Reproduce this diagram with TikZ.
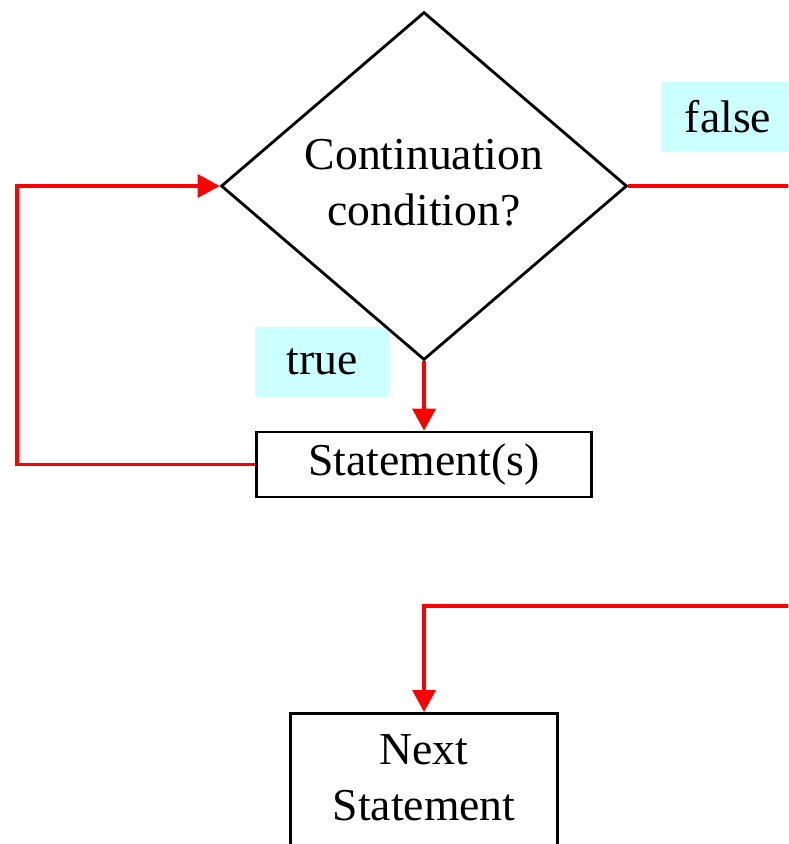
\documentclass[tikz,border=0pt]{standalone}
\usepackage{fontspec}
\setmainfont{Liberation Serif}
\usetikzlibrary{arrows.meta, shapes.geometric}

\definecolor{tagcyan}{RGB}{204,255,255}

\begin{document}
\begin{tikzpicture}[
    x=0.02cm, y=-0.02cm,
    font=\fontsize{26}{32}\selectfont,
    >={Triangle[length=4.4mm, width=4.6mm]}, % solid red tips
    decision/.style={diamond, draw, line width=1.6pt, aspect=1.167,
        minimum width=8.12cm, minimum height=6.96cm, inner sep=0pt, align=center},
    stmtbox/.style={rectangle, draw, line width=1.6pt, align=center},
    flow/.style={->, red, line width=2pt},
    tag/.style={fill=tagcyan, minimum width=2.7cm, minimum height=1.4cm, inner sep=0pt}
]

    % === Frame (picture is cut at the right and bottom) ===
    \useasboundingbox (0,0) rectangle (788,844);
    \clip (0,0) rectangle (788,844);

    % === Labels on the branches ===
    \node[tag] (falsetag) at (728,117) {false};
    \node[tag] (truetag) at (322,362) {true};

    % === Nodes ===
    \node[decision] (cond) at (424,186) {\raisebox{2pt}{\begin{tabular}{@{}c@{}}Continuation\\condition?\end{tabular}}};
    \node[stmtbox, minimum width=6.7cm, minimum height=1.3cm] (body) at (424,464.5) {Statement(s)};
    \node[stmtbox, anchor=north, minimum width=5.34cm, inner ysep=0.42cm, text depth=1cm] (next) at (424,712) {Next\\Statement};

    % === Helper coordinates ===
    \coordinate (loopL) at (17,466);
    \coordinate (exitA) at (800,186);
    \coordinate (exitB) at (800,606);

    % === Flow lines ===
    % true branch
    \draw[flow] (cond.south) -- (body.north);
    % back to the test
    \draw[flow] (body.west) -- (body.west -| loopL) |- (cond.west);
    % false branch
    \draw[red, line width=2pt] (cond.east) -- (exitA);
    \draw[flow] (exitB) -| (next.north);

\end{tikzpicture}
\end{document}
